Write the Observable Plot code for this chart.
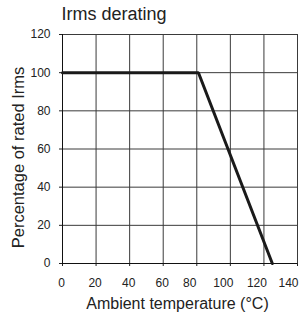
<!DOCTYPE html>
<html>
<head>
<meta charset="utf-8">
<script src="https://cdn.jsdelivr.net/npm/d3@7"></script>
<script src="https://cdn.jsdelivr.net/npm/@observablehq/plot@0.6"></script>
<style>
  html, body { margin: 0; padding: 0; background: #fff; }
  svg { display: block; }
</style>
</head>
<body>
<div id="chart"></div>
<script>
const title = "Irms derating";
const xLabel = "Ambient temperature (°C)";
const yLabel = "Percentage of rated Irms";
const temperatures = [0, 81, 125];
const percentages = [100, 100, 0];
const xTicks = [0, 20, 40, 60, 80, 100, 120, 140];
const xTickLabelsLeft = [0, 20, 40, 60];
const xTickLabelsRight = [80, 100, 120];
const xTickLabelsEdge = [140];
const yTicks = [0, 20, 40, 60, 80, 100, 120];

const data = temperatures.map((t, i) => ({t, p: percentages[i]}));
const font = "'Liberation Sans', Arial, Helvetica, sans-serif";

const chart = Plot.plot({
  width: 299,
  height: 313,
  marginLeft: 62,
  marginRight: 2,
  marginTop: 34,
  marginBottom: 50,
  style: {fontFamily: font, fontSize: "12px", color: "#222", background: "#fff"},
  x: {domain: [0, 140]},
  y: {domain: [0, 120]},
  marks: [
    Plot.gridX(xTicks, {stroke: "#3a3a3a", strokeOpacity: 1, strokeWidth: 1}),
    Plot.gridY(yTicks, {stroke: "#3a3a3a", strokeOpacity: 1, strokeWidth: 1}),
    Plot.axisX(xTicks, {tickSize: 3, text: null, label: null, stroke: "#222"}),
    Plot.axisX(xTickLabelsLeft, {tickSize: 0, tickPadding: 15, dx: -1, fontSize: 12, label: null, fill: "#222"}),
    Plot.axisX(xTickLabelsRight, {tickSize: 0, tickPadding: 15, dx: -7, fontSize: 12, label: null, fill: "#222"}),
    Plot.axisX(xTickLabelsEdge, {tickSize: 0, tickPadding: 15, dx: -9, fontSize: 12, label: null, fill: "#222"}),
    Plot.axisY(yTicks, {tickSize: 3, tickPadding: 9, fontSize: 12, label: null, stroke: "#222", fill: "#222"}),
    Plot.ruleX([0], {stroke: "#111"}),
    Plot.ruleY([0], {stroke: "#111"}),
    Plot.line(data, {x: "t", y: "p", stroke: "#1a1a1a", strokeWidth: 3, strokeLinejoin: "miter"}),
    Plot.text([title], {frameAnchor: "top-left", text: d => d, dx: -1, dy: -15, lineAnchor: "bottom", textAnchor: "start", fontSize: 18, fill: "#222"}),
    Plot.text([xLabel], {frameAnchor: "bottom", text: d => d, dx: -2.5, dy: 45.7, lineAnchor: "bottom", textAnchor: "middle", fontSize: 16, fill: "#222"}),
    Plot.text([yLabel], {frameAnchor: "left", text: d => d, dx: -38.7, dy: 8.5, rotate: -90, lineAnchor: "bottom", textAnchor: "middle", fontSize: 16.5, fill: "#222"})
  ]
});
document.getElementById("chart").appendChild(chart);
</script>
</body>
</html>
